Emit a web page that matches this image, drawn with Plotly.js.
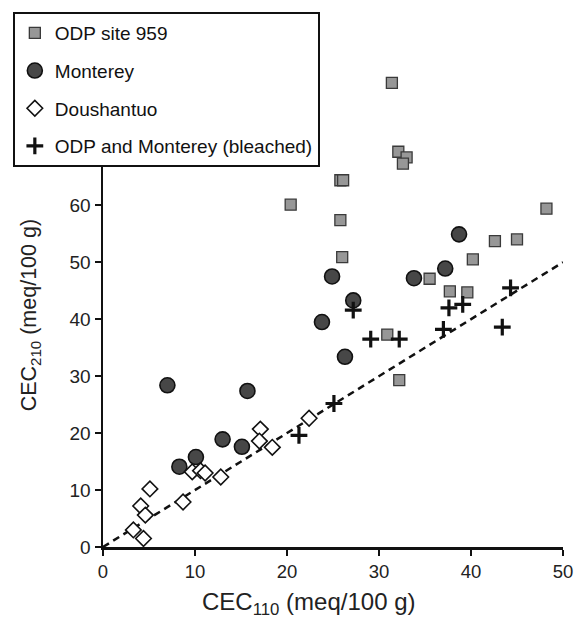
<!DOCTYPE html>
<html>
<head>
<meta charset="utf-8">
<script src="https://cdn.plot.ly/plotly-3.0.1.min.js"></script>
<style>html,body{margin:0;padding:0;background:#fff;}#chart{width:576px;height:618px;}</style>
</head>
<body>
<div id="chart"></div>
<script>
// ODP site 959
var odpX = [20.4, 25.8, 26.1, 25.8, 26.0, 31.4, 32.1, 33.0, 32.6, 30.9, 32.2, 35.5, 37.7, 39.6, 40.2, 42.6, 45.0, 48.2];
var odpY = [60.1, 64.4, 64.4, 57.4, 50.9, 81.5, 69.4, 68.4, 67.3, 37.3, 29.3, 47.1, 44.9, 44.7, 50.5, 53.7, 54.0, 59.4];
// Monterey
var monX = [7.0, 8.3, 10.1, 13.0, 15.1, 15.7, 23.8, 24.9, 26.3, 27.2, 33.8, 37.2, 38.7];
var monY = [28.4, 14.1, 15.8, 18.9, 17.6, 27.4, 39.5, 47.5, 33.4, 43.3, 47.2, 48.9, 54.9];
// Doushantuo
var douX = [3.3, 4.4, 4.1, 4.6, 5.1, 8.7, 9.7, 10.6, 11.1, 12.8, 17.1, 17.0, 18.4, 22.4];
var douY = [3.0, 1.5, 7.2, 5.6, 10.2, 7.9, 13.2, 13.4, 13.0, 12.3, 20.7, 18.6, 17.5, 22.6];
// ODP and Monterey (bleached)
var blX = [21.3, 25.1, 27.2, 29.1, 32.2, 37.0, 37.6, 39.1, 44.3, 43.4];
var blY = [19.6, 25.2, 41.6, 36.5, 36.5, 38.2, 42.0, 42.6, 45.5, 38.6];
// 1:1 line
var lineX = [0, 50];
var lineY = [0, 50];
var xTicks = [0, 10, 20, 30, 40, 50];
var yTicks = [0, 10, 20, 30, 40, 50, 60];

var FONT = 'Liberation Sans, Arial, sans-serif';

var traces = [
  {x: lineX, y: lineY, mode: 'lines', showlegend: false, hoverinfo: 'skip',
   line: {color: '#111', width: 2.5, dash: '7px,5px'}},
  {x: odpX, y: odpY, mode: 'markers', name: 'ODP site 959', legendgroup: 'a',
   marker: {symbol: 'square', size: 11, color: '#979797', line: {color: '#3a3a3a', width: 1.3}}},
  {x: monX, y: monY, mode: 'markers', name: 'Monterey', legendgroup: 'b',
   marker: {symbol: 'circle', size: 15, color: '#474747', line: {color: '#111', width: 1.6}}},
  {x: douX, y: douY, mode: 'markers', name: 'Doushantuo', legendgroup: 'c',
   marker: {symbol: 'diamond', size: 12, color: '#fff', line: {color: '#111', width: 1.6}}},
  {x: blX, y: blY, mode: 'markers', name: 'ODP and Monterey (bleached)', legendgroup: 'd',
   marker: {symbol: 'cross-thin', size: 12, color: '#111', line: {color: '#111', width: 3.2}}}
];
traces.forEach(function(t){ t.cliponaxis = false; });

var layout = {
  width: 576, height: 618,
  margin: {l: 102.7, r: 13.3, t: 80, b: 71},
  paper_bgcolor: '#fff', plot_bgcolor: '#fff',
  font: {family: FONT, color: '#111', size: 18},
  showlegend: true,
  legend: {
    x: -0.196, xanchor: 'left', y: 1.1456, yanchor: 'top',
    bgcolor: '#fff', bordercolor: '#111', borderwidth: 2,
    font: {family: FONT, size: 19, color: '#111'},
    traceorder: 'grouped', tracegroupgap: 10, itemsizing: 'trace'
  },
  xaxis: {
    range: [0, 50], tickvals: xTicks, ticktext: xTicks.map(String),
    showgrid: false, zeroline: false, showline: true, linecolor: '#111', linewidth: 2.5,
    ticks: 'outside', ticklen: 6, tickwidth: 2, tickcolor: '#111',
    tickfont: {family: FONT, size: 18.5, color: '#222'}
  },
  yaxis: {
    range: [0, 82], tickvals: yTicks, ticktext: yTicks.map(String),
    showgrid: false, zeroline: false, showline: true, linecolor: '#111', linewidth: 2.5,
    ticks: 'outside', ticklen: 6, tickwidth: 2, tickcolor: '#111',
    tickfont: {family: FONT, size: 19, color: '#222'}
  },
  annotations: [
    {text: 'CEC<sub>110</sub> (meq/100 g)', xref: 'paper', yref: 'paper',
     x: (309 - 102.7) / 460, y: -(603 - 547) / 467, xanchor: 'center', yanchor: 'middle',
     showarrow: false, font: {family: FONT, size: 24, color: '#222'}},
    {text: 'CEC<sub>210</sub> (meq/100 g)', xref: 'paper', yref: 'paper',
     x: (30 - 102.7) / 460, y: (547 - 315) / 467, xanchor: 'center', yanchor: 'middle',
     textangle: -90, showarrow: false, font: {family: FONT, size: 21.5, color: '#222'}}
  ]
};

Plotly.newPlot('chart', traces, layout, {displayModeBar: false, staticPlot: true});
</script>
</body>
</html>
